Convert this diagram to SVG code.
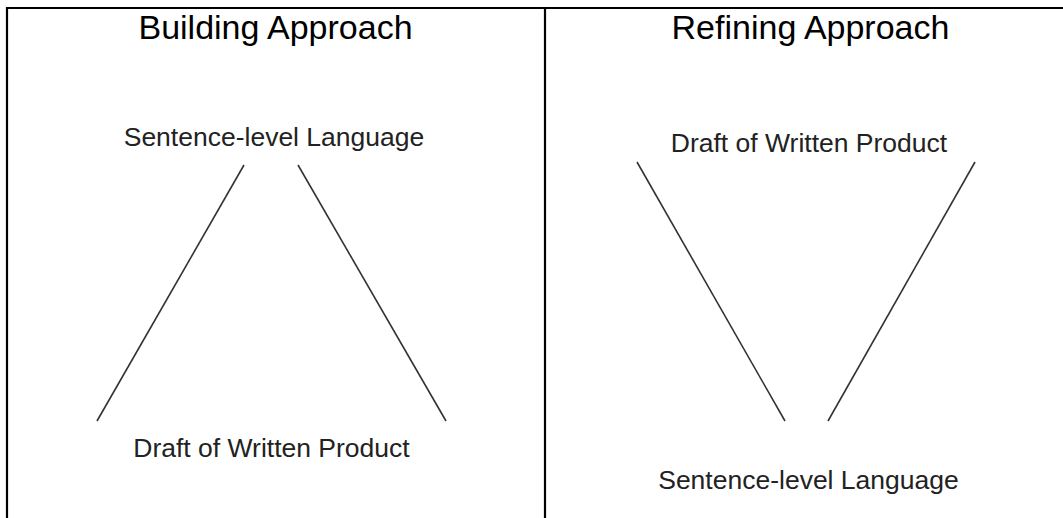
<svg xmlns="http://www.w3.org/2000/svg" width="1063" height="518" viewBox="0 0 1063 518">
<style>
.frame{stroke:#000;stroke-width:2.2;fill:none}
.title{font-family:"Liberation Sans",Arial,sans-serif;font-size:34px;fill:#000;text-anchor:middle}
.label{font-family:"Liberation Sans",Arial,sans-serif;font-size:26.5px;fill:#222;text-anchor:middle}
.conn{stroke:#333;stroke-width:1.6;fill:none}
</style>
<rect width="1063" height="518" fill="#fff"/>
<g id="frame">
<line class="frame" x1="6" y1="8" x2="1063" y2="8"/>
<line class="frame" x1="7" y1="7" x2="7" y2="518"/>
<line class="frame" x1="545" y1="8" x2="545" y2="518"/>
</g>
<g id="title-building"><text class="title" x="275.5" y="39">Building Approach</text></g>
<g id="title-refining"><text class="title" x="810.5" y="39">Refining Approach</text></g>
<g id="node-left-sentence"><text class="label" x="274" y="146">Sentence-level Language</text></g>
<g id="node-left-draft"><text class="label" x="271.5" y="457">Draft of Written Product</text></g>
<g id="node-right-draft"><text class="label" x="809" y="152">Draft of Written Product</text></g>
<g id="node-right-sentence"><text class="label" x="808.5" y="489">Sentence-level Language</text></g>
<g id="connectors">
<line class="conn" x1="244" y1="165" x2="97" y2="421"/>
<line class="conn" x1="298" y1="165" x2="446" y2="421"/>
<line class="conn" x1="637" y1="162" x2="785" y2="421"/>
<line class="conn" x1="975" y1="162" x2="828" y2="421"/>
</g>
</svg>
